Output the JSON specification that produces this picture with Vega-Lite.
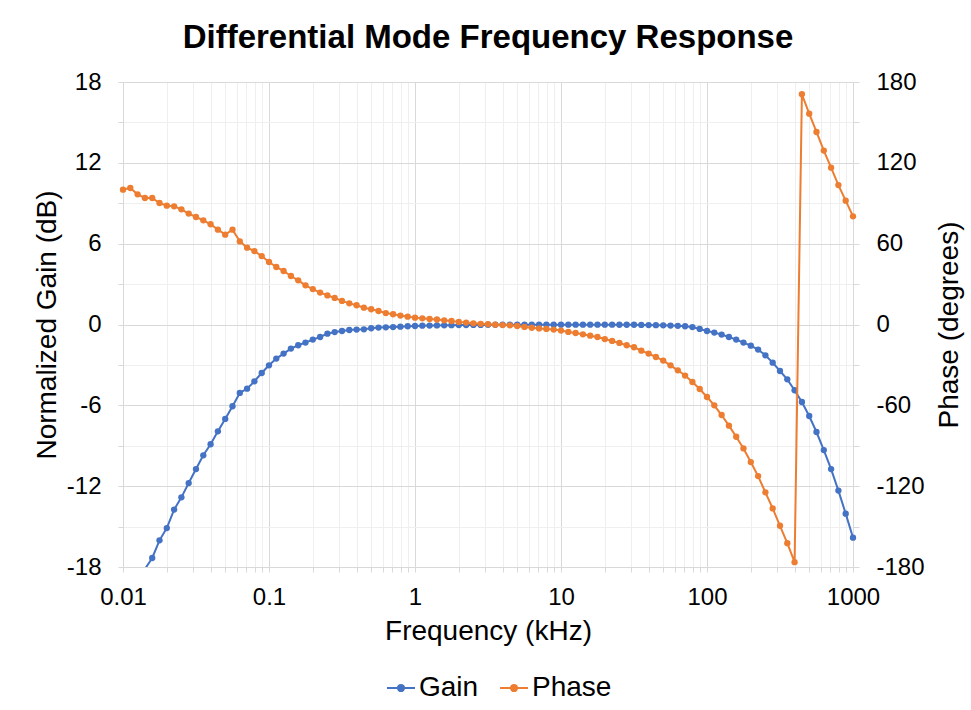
{
  "$schema": "https://vega.github.io/schema/vega-lite/v6.json",
  "width": 730,
  "height": 485,
  "autosize": {"type": "none"},
  "padding": {"left": 123, "top": 82, "right": 118, "bottom": 143},
  "background": "white",
  "title": {
    "text": "Differential Mode Frequency Response",
    "font": "Liberation Sans",
    "fontSize": 33,
    "fontWeight": "bold",
    "color": "#000000",
    "anchor": "middle",
    "baseline": "alphabetic",
    "offset": 20,
    "dy": 31
  },
  "config": {
    "view": {"stroke": null},
    "axis": {"labelFont": "Liberation Sans", "titleFont": "Liberation Sans", "labelColor": "#000000", "titleColor": "#000000", "titleFontWeight": "normal"}
  },
  "data": {
    "values": [
      {"f": 0.01, "gain": -21.7, "phase": 100.1},
      {"f": 0.01122, "gain": -20.5, "phase": 101.3},
      {"f": 0.01259, "gain": -19.3, "phase": 96.6},
      {"f": 0.01413, "gain": -18.15, "phase": 93.9},
      {"f": 0.01585, "gain": -17.33, "phase": 93.9},
      {"f": 0.01778, "gain": -16.02, "phase": 90.2},
      {"f": 0.01995, "gain": -15.11, "phase": 88.2},
      {"f": 0.02239, "gain": -13.74, "phase": 87.7},
      {"f": 0.02512, "gain": -12.83, "phase": 85.5},
      {"f": 0.02818, "gain": -11.77, "phase": 82.3},
      {"f": 0.03162, "gain": -10.73, "phase": 79.8},
      {"f": 0.03548, "gain": -9.71, "phase": 77.3},
      {"f": 0.03981, "gain": -8.89, "phase": 74.4},
      {"f": 0.04467, "gain": -7.93, "phase": 70.4},
      {"f": 0.05012, "gain": -7.01, "phase": 66.7},
      {"f": 0.05623, "gain": -6.07, "phase": 70.4},
      {"f": 0.0631, "gain": -5.08, "phase": 61.7},
      {"f": 0.07079, "gain": -4.76, "phase": 57.0},
      {"f": 0.07943, "gain": -4.22, "phase": 54.5},
      {"f": 0.08913, "gain": -3.6, "phase": 50.8},
      {"f": 0.1, "gain": -3.03, "phase": 46.4},
      {"f": 0.1122, "gain": -2.53, "phase": 42.7},
      {"f": 0.1259, "gain": -2.16, "phase": 39.7},
      {"f": 0.1413, "gain": -1.79, "phase": 36.0},
      {"f": 0.1585, "gain": -1.54, "phase": 32.8},
      {"f": 0.1778, "gain": -1.34, "phase": 29.1},
      {"f": 0.1995, "gain": -1.12, "phase": 26.3},
      {"f": 0.2239, "gain": -0.93, "phase": 23.7},
      {"f": 0.2512, "gain": -0.68, "phase": 21.6},
      {"f": 0.2818, "gain": -0.56, "phase": 19.7},
      {"f": 0.3162, "gain": -0.48, "phase": 17.5},
      {"f": 0.3548, "gain": -0.41, "phase": 15.7},
      {"f": 0.3981, "gain": -0.38, "phase": 14.3},
      {"f": 0.4467, "gain": -0.36, "phase": 12.5},
      {"f": 0.5012, "gain": -0.28, "phase": 11.3},
      {"f": 0.5623, "gain": -0.23, "phase": 10.0},
      {"f": 0.631, "gain": -0.21, "phase": 8.5},
      {"f": 0.7079, "gain": -0.19, "phase": 7.6},
      {"f": 0.7943, "gain": -0.16, "phase": 6.6},
      {"f": 0.8913, "gain": -0.13, "phase": 5.8},
      {"f": 1, "gain": -0.11, "phase": 5.1},
      {"f": 1.122, "gain": -0.09, "phase": 4.6},
      {"f": 1.259, "gain": -0.08, "phase": 4.1},
      {"f": 1.413, "gain": -0.07, "phase": 3.7},
      {"f": 1.585, "gain": -0.06, "phase": 3.1},
      {"f": 1.778, "gain": -0.05, "phase": 2.6},
      {"f": 1.995, "gain": -0.04, "phase": 1.9},
      {"f": 2.239, "gain": -0.04, "phase": 1.4},
      {"f": 2.512, "gain": -0.03, "phase": 0.9},
      {"f": 2.818, "gain": -0.03, "phase": 0.5},
      {"f": 3.162, "gain": -0.02, "phase": 0.2},
      {"f": 3.548, "gain": -0.02, "phase": -0.1},
      {"f": 3.981, "gain": -0.02, "phase": -0.4},
      {"f": 4.467, "gain": -0.02, "phase": -0.6},
      {"f": 5.012, "gain": -0.01, "phase": -1.1},
      {"f": 5.623, "gain": -0.01, "phase": -1.8},
      {"f": 6.31, "gain": -0.01, "phase": -2.4},
      {"f": 7.079, "gain": -0.01, "phase": -2.9},
      {"f": 7.943, "gain": -0.01, "phase": -3.3},
      {"f": 8.913, "gain": -0.01, "phase": -3.8},
      {"f": 10, "gain": -0.01, "phase": -4.5},
      {"f": 11.22, "gain": -0.01, "phase": -5.5},
      {"f": 12.59, "gain": -0.01, "phase": -6.3},
      {"f": 14.13, "gain": -0.01, "phase": -7.3},
      {"f": 15.85, "gain": -0.01, "phase": -8.3},
      {"f": 17.78, "gain": -0.01, "phase": -9.3},
      {"f": 19.95, "gain": -0.01, "phase": -10.8},
      {"f": 22.39, "gain": -0.01, "phase": -12.2},
      {"f": 25.12, "gain": -0.02, "phase": -13.7},
      {"f": 28.18, "gain": -0.02, "phase": -15.4},
      {"f": 31.62, "gain": -0.02, "phase": -16.9},
      {"f": 35.48, "gain": -0.03, "phase": -19.4},
      {"f": 39.81, "gain": -0.04, "phase": -21.6},
      {"f": 44.67, "gain": -0.05, "phase": -24.1},
      {"f": 50.12, "gain": -0.06, "phase": -26.8},
      {"f": 56.23, "gain": -0.08, "phase": -30.3},
      {"f": 63.1, "gain": -0.1, "phase": -34.0},
      {"f": 70.79, "gain": -0.13, "phase": -37.9},
      {"f": 79.43, "gain": -0.19, "phase": -42.7},
      {"f": 89.13, "gain": -0.33, "phase": -47.9},
      {"f": 100, "gain": -0.48, "phase": -53.8},
      {"f": 112.2, "gain": -0.6, "phase": -60.0},
      {"f": 125.9, "gain": -0.75, "phase": -67.2},
      {"f": 141.3, "gain": -0.93, "phase": -75.1},
      {"f": 158.5, "gain": -1.12, "phase": -83.3},
      {"f": 177.8, "gain": -1.34, "phase": -92.0},
      {"f": 199.5, "gain": -1.57, "phase": -102.1},
      {"f": 223.9, "gain": -1.86, "phase": -112.5},
      {"f": 251.2, "gain": -2.29, "phase": -124.6},
      {"f": 281.8, "gain": -2.83, "phase": -136.5},
      {"f": 316.2, "gain": -3.45, "phase": -149.4},
      {"f": 354.8, "gain": -4.07, "phase": -162.3},
      {"f": 398.1, "gain": -4.88, "phase": -176.4},
      {"f": 446.7, "gain": -5.75, "phase": 170.9},
      {"f": 501.2, "gain": -6.79, "phase": 156.5},
      {"f": 562.3, "gain": -7.98, "phase": 142.9},
      {"f": 631, "gain": -9.32, "phase": 129.1},
      {"f": 707.9, "gain": -10.73, "phase": 116.4},
      {"f": 794.3, "gain": -12.33, "phase": 103.5},
      {"f": 891.3, "gain": -14.04, "phase": 91.9},
      {"f": 1000, "gain": -15.82, "phase": 80.3}
    ]
  },
  "layer": [
    {
      "layer": [
        {
          "mark": {"type": "line", "strokeWidth": 2, "clip": true},
          "encoding": {
            "x": {
              "field": "f",
              "type": "quantitative",
              "scale": {"type": "log", "domain": [0.01, 1000]},
              "axis": {
                "title": "Frequency (kHz)",
                "values": [0.01, 0.02, 0.03, 0.04, 0.05, 0.06, 0.07, 0.08, 0.09, 0.1, 0.2, 0.3, 0.4, 0.5, 0.6, 0.7, 0.8, 0.9, 1, 2, 3, 4, 5, 6, 7, 8, 9, 10, 20, 30, 40, 50, 60, 70, 80, 90, 100, 200, 300, 400, 500, 600, 700, 800, 900, 1000],
                "format": "~g",
                "labelExpr": "indexof([0.01, 0.1, 1, 10, 100, 1000], datum.value) >= 0 ? datum.label : ''",
                "labelOverlap": false,
                "labelFlush": false,
                "labelBound": false,
                "labelFontSize": 24,
                "titleFontSize": 28,
                "labelPadding": 13,
                "titlePadding": 8,
                "grid": true,
                "gridColor": {"condition": {"test": "indexof([0.01, 0.1, 1, 10, 100, 1000], datum.value) >= 0", "value": "#d9d9d9"}, "value": "#efefef"},
                "gridWidth": 1,
                "tickColor": "#d9d9d9",
                "tickSize": 5,
                "domainColor": "#d9d9d9"
              }
            },
            "y": {
              "field": "gain",
              "type": "quantitative",
              "scale": {"domain": [-18, 18], "nice": false, "zero": false},
              "axis": {
                "title": "Normalized Gain (dB)",
                "values": [-18, -16.5, -15, -13.5, -12, -10.5, -9, -7.5, -6, -4.5, -3, -1.5, 0, 1.5, 3, 4.5, 6, 7.5, 9, 10.5, 12, 13.5, 15, 16.5, 18],
                "labelExpr": "datum.value % 6 == 0 ? toString(datum.value) : ''",
                "labelOverlap": false,
                "labelFlush": false,
                "labelBound": false,
                "labelFontSize": 24,
                "titleFontSize": 28,
                "labelPadding": 17,
                "titlePadding": 5,
                "grid": true,
                "gridColor": {"condition": {"test": "datum.value % 6 == 0", "value": "#d9d9d9"}, "value": "#efefef"},
                "tickColor": "#d9d9d9",
                "tickOpacity": {"condition": {"test": "datum.value % 3 == 0", "value": 1}, "value": 0},
                "tickSize": 5,
                "domainColor": "#d9d9d9"
              }
            },
            "color": {
              "datum": "Gain",
              "type": "nominal",
              "scale": {"domain": ["Gain", "Phase"], "range": ["#4472C4", "#ED7D31"]},
              "legend": {
                "orient": "none",
                "legendX": 263,
                "legendY": 591,
                "direction": "horizontal",
                "title": null,
                "symbolType": "M-1,0H1M-0.22,0A0.22,0.22,0,1,1,0.22,0A0.22,0.22,0,1,1,-0.22,0Z",
                "symbolSize": 784,
                "symbolStrokeWidth": 2,
                "labelFont": "Liberation Sans",
                "labelFontSize": 28,
                "labelColor": "#000000",
                "labelOffset": 3,
                "columnPadding": 17,
                "padding": 0,
                "encode": {
                  "symbols": {
                    "update": {
                      "fill": {"scale": "color", "field": "value"},
                      "stroke": {"scale": "color", "field": "value"}
                    }
                  }
                }
              }
            }
          }
        },
        {
          "transform": [{"filter": "datum.gain >= -18"}],
          "mark": {"type": "point", "filled": true, "size": 40, "opacity": 1},
          "encoding": {
            "x": {"field": "f", "type": "quantitative"},
            "y": {"field": "gain", "type": "quantitative"},
            "color": {"datum": "Gain", "type": "nominal"}
          }
        }
      ]
    },
    {
      "layer": [
        {
          "mark": {"type": "line", "strokeWidth": 2, "clip": true},
          "encoding": {
            "x": {"field": "f", "type": "quantitative"},
            "y": {
              "field": "phase",
              "type": "quantitative",
              "scale": {"domain": [-180, 180], "nice": false, "zero": false},
              "axis": {
                "orient": "right",
                "title": "Phase  (degrees)",
                "titleAngle": 270,
                "titleBaseline": "top",
                "values": [-180, -165, -150, -135, -120, -105, -90, -75, -60, -45, -30, -15, 0, 15, 30, 45, 60, 75, 90, 105, 120, 135, 150, 165, 180],
                "labelExpr": "datum.value % 60 == 0 ? toString(datum.value) : ''",
                "labelOverlap": false,
                "labelFlush": false,
                "labelBound": false,
                "labelFontSize": 24,
                "titleFontSize": 28,
                "labelPadding": 17,
                "titlePadding": 11,
                "grid": false,
                "tickColor": "#d9d9d9",
                "tickSize": 6,
                "domainColor": "#d9d9d9"
              }
            },
            "color": {"datum": "Phase", "type": "nominal"}
          }
        },
        {
          "mark": {"type": "point", "filled": true, "size": 40, "opacity": 1},
          "encoding": {
            "x": {"field": "f", "type": "quantitative"},
            "y": {"field": "phase", "type": "quantitative"},
            "color": {"datum": "Phase", "type": "nominal"}
          }
        }
      ]
    }
  ],
  "resolve": {"scale": {"y": "independent"}}
}
